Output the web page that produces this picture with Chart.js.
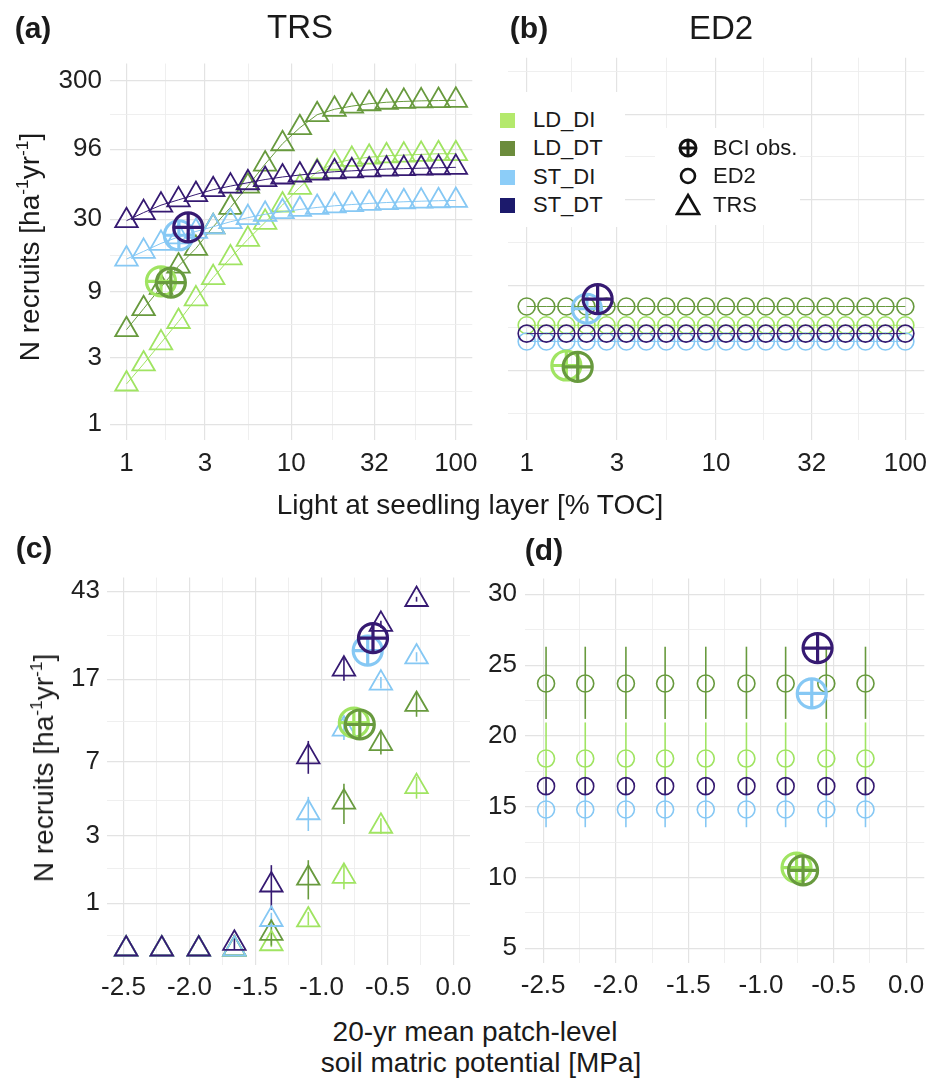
<!DOCTYPE html>
<html><head><meta charset="utf-8">
<script src="https://cdn.jsdelivr.net/npm/chart.js@4.4.1/dist/chart.umd.min.js"></script>
<style>
body{margin:0;background:#fff;width:942px;height:1079px;position:relative;overflow:hidden;font-family:"Liberation Sans",Arial,Helvetica,sans-serif;color:#1a1a1a}
canvas{position:absolute}
.t{position:absolute;white-space:nowrap;line-height:1;transform:translate(-50%,-50%)}
.l{position:absolute;white-space:nowrap;line-height:1;transform:translateY(-50%)}
.box{position:absolute;background:#fff}
sup{font-size:0.62em;vertical-align:0.62em;line-height:0}
</style></head><body>
<canvas id="ca" style="left:0;top:40px" width="490" height="460"></canvas>
<canvas id="cb" style="left:490px;top:40px" width="452" height="460"></canvas>
<canvas id="cc" style="left:0;top:555px" width="490" height="455"></canvas>
<canvas id="cd" style="left:470px;top:555px" width="472" height="455"></canvas>
<div id="overlay"></div>
<script>
// ---------------- DATA ----------------
const seriesNames = ['LD_DI', 'LD_DT', 'ST_DI', 'ST_DT'];
const lightLevels = [1.00, 1.27, 1.62, 2.07, 2.64, 3.36, 4.28, 5.46, 6.95, 8.86, 11.29, 14.38, 18.33, 23.36, 29.76, 37.93, 48.33, 61.58, 78.48, 100.0];
const trsLight_LD_DI = [1.95, 2.72, 3.86, 5.5, 8.0, 11.4, 15.8, 21.5, 28.5, 38, 51, 66, 76, 81, 84, 86, 87, 88, 89, 89];
const trsLight_LD_DT = [4.8, 6.8, 9.7, 13.8, 18.5, 26.5, 36.5, 52, 75, 105, 137, 170, 186, 196, 204, 209, 212, 214, 215, 216];
const trsLight_ST_DI = [15.5, 17.6, 20.1, 22.4, 24.5, 26.5, 28.8, 30.8, 32.6, 34, 35.3, 36.5, 37.5, 38.3, 39, 39.6, 40.1, 40.5, 40.8, 41];
const trsLight_ST_DT = [29.3, 33.5, 37.9, 41.4, 45.2, 49, 52, 55, 58, 60.5, 62.5, 64.5, 66, 67, 68, 69, 69.5, 70, 70.5, 71];
const ed2Light_LD_DI = [18.4, 18.4, 18.4, 18.4, 18.4, 18.4, 18.4, 18.4, 18.4, 18.4, 18.4, 18.4, 18.4, 18.4, 18.4, 18.4, 18.4, 18.4, 18.4, 18.4];
const ed2Light_LD_DT = [23.7, 23.7, 23.7, 23.7, 23.7, 23.7, 23.7, 23.7, 23.7, 23.7, 23.7, 23.7, 23.7, 23.7, 23.7, 23.7, 23.7, 23.7, 23.7, 23.7];
const ed2Light_ST_DI = [14.8, 14.8, 14.8, 14.8, 14.8, 14.8, 14.8, 14.8, 14.8, 14.8, 14.8, 14.8, 14.8, 14.8, 14.8, 14.8, 14.8, 14.8, 14.8, 14.8];
const ed2Light_ST_DT = [16.45, 16.45, 16.45, 16.45, 16.45, 16.45, 16.45, 16.45, 16.45, 16.45, 16.45, 16.45, 16.45, 16.45, 16.45, 16.45, 16.45, 16.45, 16.45, 16.45];
// BCI observations (order: LD_DI, LD_DT, ST_DI, ST_DT)
const obsLightX = [1.62, 1.86, 2.08, 2.37];
const obsSoilX = [-0.755, -0.71, -0.65, -0.61];
const obsRecruits = [10.7, 10.5, 23.0, 26.2];

const soilLevels = [-2.48, -2.21, -1.93, -1.66, -1.38, -1.10, -0.83, -0.55, -0.28];
const trsSoil_LD_DI = [0, 0, 0, 0, 0.11, 0.62, 1.68, 3.36, 5.33];
const trsSoilLo_LD_DI = [null, null, null, null, 0.04, 0.5, 1.34, 3.05, 4.65];
const trsSoilHi_LD_DI = [null, null, null, null, 0.22, 0.8, 2.05, 3.7, 5.95];
const trsSoil_LD_DT = [0, 0, 0, 0, 0.33, 1.63, 4.47, 8.55, 13.0];
const trsSoilLo_LD_DT = [null, null, null, null, 0.07, 1.09, 3.45, 7.6, 11.4];
const trsSoilHi_LD_DT = [null, null, null, null, 0.64, 2.15, 5.5, 9.9, 14.8];
const trsSoil_ST_DI = [0, 0, 0, 0, 0.63, 3.95, 10.0, 16.3, 21.5];
const trsSoilLo_ST_DI = [null, null, null, null, 0.5, 3.17, 8.9, 15.4, 20.5];
const trsSoilHi_ST_DI = [null, null, null, null, 0.78, 4.75, 11.2, 17.4, 22.6];
const trsSoil_ST_DT = [0, 0, 0, 0.12, 1.45, 7.4, 18.9, 30.3, 39.4];
const trsSoilLo_ST_DT = [null, null, null, 0, 0.85, 6.15, 16.7, 29.2, 38.5];
const trsSoilHi_ST_DT = [null, null, null, 0.3, 2.0, 8.8, 21.7, 31.5, 40.5];

const ed2Soil_LD_DI = [18.4, 18.4, 18.4, 18.4, 18.4, 18.4, 18.4, 18.4, 18.4];
const ed2SoilLo_LD_DI = [15.85, 15.85, 15.85, 15.85, 15.85, 15.85, 15.85, 15.85, 15.85];
const ed2SoilHi_LD_DI = [20.95, 20.95, 20.95, 20.95, 20.95, 20.95, 20.95, 20.95, 20.95];
const ed2Soil_LD_DT = [23.7, 23.7, 23.7, 23.7, 23.7, 23.7, 23.7, 23.7, 23.7];
const ed2SoilLo_LD_DT = [21.2, 21.2, 21.2, 21.2, 21.2, 21.2, 21.2, 21.2, 21.2];
const ed2SoilHi_LD_DT = [26.3, 26.3, 26.3, 26.3, 26.3, 26.3, 26.3, 26.3, 26.3];
const ed2Soil_ST_DI = [14.8, 14.8, 14.8, 14.8, 14.8, 14.8, 14.8, 14.8, 14.8];
const ed2SoilLo_ST_DI = [13.55, 13.55, 13.55, 13.55, 13.55, 13.55, 13.55, 13.55, 13.55];
const ed2SoilHi_ST_DI = [16.05, 16.05, 16.05, 16.05, 16.05, 16.05, 16.05, 16.05, 16.05];
const ed2Soil_ST_DT = [16.45, 16.45, 16.45, 16.45, 16.45, 16.45, 16.45, 16.45, 16.45];
const ed2SoilLo_ST_DT = [15.9, 15.9, 15.9, 15.9, 15.9, 15.9, 15.9, 15.9, 15.9];
const ed2SoilHi_ST_DT = [17.0, 17.0, 17.0, 17.0, 17.0, 17.0, 17.0, 17.0, 17.0];

// tick values
const lightTicks = [1, 3, 10, 32, 100];
const lightMinor = [1.73, 5.48, 17.9, 56.6];
const recruitTicksA = [1, 3, 9, 30, 96, 300];
const recruitMinorA = [1.73, 5.2, 16.4, 53.7, 169.7];
const recruitGridB = [10, 31.6, 100, 316];
const recruitMinorB = [5.62, 17.8, 56.2, 178, 562];
const recruitTicksC = [1, 3, 7, 17, 43];
const recruitMinorC = [0.283, 1.89, 4.56, 10.8, 27];
const soilTicks = [-2.5, -2.0, -1.5, -1.0, -0.5, 0.0];
const soilMinor = [-2.25, -1.75, -1.25, -0.75, -0.25];
const recruitTicksD = [5, 10, 15, 20, 25, 30];
const recruitMinorD = [7.5, 12.5, 17.5, 22.5, 27.5];

// ---------------- STYLE ----------------
const FONT = '"Liberation Sans", Arial, Helvetica, sans-serif';
const markColor = {LD_DI: '#a0e462', LD_DT: '#689a3e', ST_DI: '#86c8f4', ST_DT: '#361a72'};
const legendColor = {LD_DI: '#b4e96c', LD_DT: '#6c8c3c', ST_DI: '#8ccdf8', ST_DT: '#1c1a6c'};
const drawOrder = {ST_DT: 4, ST_DI: 5, LD_DT: 6, LD_DI: 7};
const obsOrder = {ST_DT: 0, ST_DI: 1, LD_DT: 2, LD_DI: 3};

// pseudo-log (asinh) scale, sigma = 1
class PseudoLogScale extends Chart.LinearScale {
  _t(v) { return Math.asinh(v / 2); }
  getPixelForValue(value) {
    const a = this._t(this.min), b = this._t(this.max);
    return this.getPixelForDecimal((this._t(value) - a) / (b - a));
  }
  getValueForPixel(pixel) {
    const a = this._t(this.min), b = this._t(this.max);
    return 2 * Math.sinh(a + this.getDecimalForPixel(pixel) * (b - a));
  }
}
PseudoLogScale.id = 'pseudolog';
PseudoLogScale.defaults = Chart.LinearScale.defaults;
Chart.register(PseudoLogScale);

const errorBars = {
  id: 'errorBars',
  beforeDatasetsDraw(chart) {
    const ctx = chart.ctx, xs = chart.scales.x, ys = chart.scales.y;
    chart.data.datasets.forEach(ds => {
      if (!ds.errLo) return;
      ctx.save();
      ctx.strokeStyle = ds.borderColor;
      ctx.lineWidth = 1.6;
      ds.data.forEach((p, j) => {
        const lo = ds.errLo[j], hi = ds.errHi[j];
        if (lo == null || hi == null) return;
        const x = xs.getPixelForValue(p.x);
        ctx.beginPath();
        ctx.moveTo(x, ys.getPixelForValue(lo));
        ctx.lineTo(x, ys.getPixelForValue(hi));
        ctx.stroke();
      });
      ctx.restore();
    });
  }
};

function axis(o) {
  const isMajor = v => o.major.some(m => Math.abs(m - v) < 1e-9);
  const all = o.major.concat(o.minor).filter(v => v >= o.min && v <= o.max).sort((a, b) => a - b);
  return {
    type: o.type, min: o.min, max: o.max, bounds: 'data', position: o.position,
    afterBuildTicks: s => { s.ticks = all.map(v => ({value: v})); },
    afterFit: s => { if (o.width != null) s.width = o.width; if (o.height != null) s.height = o.height; },
    ticks: {
      display: o.labels !== false, autoSkip: false, maxRotation: 0, minRotation: 0,
      padding: o.padding, color: '#1f1f1f', font: {family: FONT, size: 26},
      callback: v => isMajor(v) ? (o.fmt ? o.fmt(v) : String(v)) : ''
    },
    grid: {
      drawTicks: false,
      color: c => (c.tick && isMajor(c.tick.value)) ? '#e3e3e3' : '#ededed',
      lineWidth: c => (c.tick && isMajor(c.tick.value)) ? 1.2 : 0.9
    },
    border: {display: false}
  };
}

function pts(xs, ys) { return xs.map((x, i) => ({x: x, y: ys[i]})); }

function markSet(name, xs, ys, style, radius, line, lo, hi) {
  const c = markColor[name];
  return {
    label: name, data: pts(xs, ys), order: drawOrder[name],
    pointStyle: style, pointRadius: radius, pointHoverRadius: radius,
    pointBorderWidth: style === 'triangle' ? 1.8 : 1.6,
    borderColor: c, pointBorderColor: c, backgroundColor: 'rgba(0,0,0,0)', pointBackgroundColor: 'rgba(0,0,0,0)',
    showLine: line, borderWidth: 1, tension: 0,
    errLo: lo || null, errHi: hi || null
  };
}

function obsSets(xArr) {
  const out = [];
  seriesNames.forEach((name, i) => {
    const c = markColor[name];
    ['circle', 'cross'].forEach(st => {
      out.push({
        label: 'BCI obs. ' + name, data: [{x: xArr[i], y: obsRecruits[i]}], order: obsOrder[name],
        pointStyle: st, pointRadius: 14.5, pointHoverRadius: 14.5, pointBorderWidth: 3.2,
        borderColor: c, pointBorderColor: c, backgroundColor: 'rgba(0,0,0,0)', pointBackgroundColor: 'rgba(0,0,0,0)',
        showLine: false
      });
    });
  });
  return out;
}

function makeChart(id, datasets, xAxis, yAxis, padding) {
  return new Chart(document.getElementById(id), {
    type: 'scatter',
    data: {datasets: datasets},
    options: {
      responsive: false, animation: false, events: [],
      layout: {padding: padding},
      plugins: {legend: {display: false}, tooltip: {enabled: false}, title: {display: false}},
      scales: {x: xAxis, y: yAxis}
    },
    plugins: [errorBars]
  });
}

const trsLight = {LD_DI: trsLight_LD_DI, LD_DT: trsLight_LD_DT, ST_DI: trsLight_ST_DI, ST_DT: trsLight_ST_DT};
const ed2Light = {LD_DI: ed2Light_LD_DI, LD_DT: ed2Light_LD_DT, ST_DI: ed2Light_ST_DI, ST_DT: ed2Light_ST_DT};
const trsSoil = {LD_DI: [trsSoil_LD_DI, trsSoilLo_LD_DI, trsSoilHi_LD_DI], LD_DT: [trsSoil_LD_DT, trsSoilLo_LD_DT, trsSoilHi_LD_DT],
  ST_DI: [trsSoil_ST_DI, trsSoilLo_ST_DI, trsSoilHi_ST_DI], ST_DT: [trsSoil_ST_DT, trsSoilLo_ST_DT, trsSoilHi_ST_DT]};
const ed2Soil = {LD_DI: [ed2Soil_LD_DI, ed2SoilLo_LD_DI, ed2SoilHi_LD_DI], LD_DT: [ed2Soil_LD_DT, ed2SoilLo_LD_DT, ed2SoilHi_LD_DT],
  ST_DI: [ed2Soil_ST_DI, ed2SoilLo_ST_DI, ed2SoilHi_ST_DI], ST_DT: [ed2Soil_ST_DT, ed2SoilLo_ST_DT, ed2SoilHi_ST_DT]};

const fmtSoil = v => v.toFixed(1);

// (a) TRS vs light
makeChart('ca',
  seriesNames.map(n => markSet(n, lightLevels, trsLight[n], 'triangle', 13, true)).concat(obsSets(obsLightX)),
  axis({type: 'logarithmic', min: 0.794, max: 125.9, major: lightTicks, minor: lightMinor, position: 'bottom', height: 60, padding: 8}),
  axis({type: 'logarithmic', min: 0.77, max: 397, major: recruitTicksA, minor: recruitMinorA, position: 'left', width: 110, padding: 8}),
  {top: 15, right: 3, left: 0, bottom: 0});

// (b) ED2 vs light
makeChart('cb',
  seriesNames.map(n => markSet(n, lightLevels, ed2Light[n], 'circle', 8.5, true)).concat(obsSets(obsLightX)),
  axis({type: 'logarithmic', min: 0.794, max: 125.9, major: lightTicks, minor: lightMinor, position: 'bottom', height: 60, padding: 8}),
  axis({type: 'logarithmic', min: 3.92, max: 678, major: recruitGridB, minor: recruitMinorB, position: 'left', width: 15, labels: false, padding: 0}),
  {top: 15, right: 7, left: 0, bottom: 0});

// (c) TRS vs soil water
makeChart('cc',
  seriesNames.map(n => markSet(n, soilLevels, trsSoil[n][0], 'triangle', 13, false, trsSoil[n][1], trsSoil[n][2])).concat(obsSets(obsSoilX)),
  axis({type: 'linear', min: -2.625, max: 0.125, major: soilTicks, minor: soilMinor, position: 'bottom', height: 45, padding: 7, fmt: fmtSoil}),
  axis({type: 'pseudolog', min: -0.338, max: 49.6, major: recruitTicksC, minor: recruitMinorC, position: 'left', width: 107, padding: 7}),
  {top: 15, right: 20, left: 0, bottom: 0});

// (d) ED2 vs soil water
makeChart('cd',
  seriesNames.map(n => markSet(n, soilLevels, ed2Soil[n][0], 'circle', 8.5, false, ed2Soil[n][1], ed2Soil[n][2])).concat(obsSets(obsSoilX)),
  axis({type: 'linear', min: -2.625, max: 0.125, major: soilTicks, minor: soilMinor, position: 'bottom', height: 47, padding: 7, fmt: fmtSoil}),
  axis({type: 'linear', min: 3.96, max: 31.11, major: recruitTicksD, minor: recruitMinorD, position: 'left', width: 55, padding: 8}),
  {top: 17, right: 7, left: 0, bottom: 0});

// ---------------- TEXT / LEGEND ----------------
const ov = document.getElementById('overlay');
function txt(html, x, y, size, extra) {
  const d = document.createElement('div');
  d.className = 't';
  d.style.left = x + 'px'; d.style.top = y + 'px'; d.style.fontSize = size + 'px';
  if (extra) Object.assign(d.style, extra);
  d.innerHTML = html;
  ov.appendChild(d);
  return d;
}
txt('(a)', 33, 28, 30, {fontWeight: 'bold'});
txt('TRS', 300, 26, 33);
txt('(b)', 529, 28, 30, {fontWeight: 'bold'});
txt('ED2', 721, 27, 33);
txt('(c)', 34, 548, 30, {fontWeight: 'bold'});
txt('(d)', 544, 550, 30, {fontWeight: 'bold'});
txt('Light at seedling layer [% TOC]', 470, 505, 28);
txt('20-yr mean patch-level', 475, 1032, 28);
txt('soil matric potential [MPa]', 481, 1063, 28);
const yTitle = 'N recruits [ha<sup>-1</sup>yr<sup>-1</sup>]';
txt(yTitle, 30, 247, 28, {transform: 'translate(-50%,-50%) rotate(-90deg)'});
txt(yTitle, 44, 768, 28, {transform: 'translate(-50%,-50%) rotate(-90deg)'});

// legend boxes
function box(l, t, w, h) {
  const d = document.createElement('div'); d.className = 'box';
  Object.assign(d.style, {left: l + 'px', top: t + 'px', width: w + 'px', height: h + 'px'});
  ov.appendChild(d);
}
box(489, 92, 136, 135);
box(655, 128, 145, 97);
const legendRows = [120, 148, 177, 205];
seriesNames.forEach((n, i) => {
  const sq = document.createElement('div');
  Object.assign(sq.style, {position: 'absolute', left: '500px', top: (legendRows[i] - 7.5) + 'px', width: '15px', height: '15px', background: legendColor[n]});
  ov.appendChild(sq);
  const l = document.createElement('div'); l.className = 'l';
  Object.assign(l.style, {left: '533px', top: legendRows[i] + 'px', fontSize: '22px'});
  l.textContent = n; ov.appendChild(l);
});
const shapeRows = [[148, 'BCI obs.', '<circle cx="13" cy="13" r="8" fill="none" stroke="#111" stroke-width="3"/><line x1="5" y1="13" x2="21" y2="13" stroke="#111" stroke-width="3"/><line x1="13" y1="5" x2="13" y2="21" stroke="#111" stroke-width="3"/>'],
  [176, 'ED2', '<circle cx="13" cy="13" r="7" fill="none" stroke="#111" stroke-width="2.6"/>'],
  [205, 'TRS', '<polygon points="13,3 24,22 2,22" fill="none" stroke="#111" stroke-width="2.6"/>']];
shapeRows.forEach(r => {
  const s = document.createElement('div');
  Object.assign(s.style, {position: 'absolute', left: '675px', top: (r[0] - 13) + 'px', width: '26px', height: '26px'});
  s.innerHTML = '<svg width="26" height="26" viewBox="0 0 26 26">' + r[2] + '</svg>';
  ov.appendChild(s);
  const l = document.createElement('div'); l.className = 'l';
  Object.assign(l.style, {left: '713px', top: r[0] + 'px', fontSize: '22px'});
  l.textContent = r[1]; ov.appendChild(l);
});
</script>
</body></html>
